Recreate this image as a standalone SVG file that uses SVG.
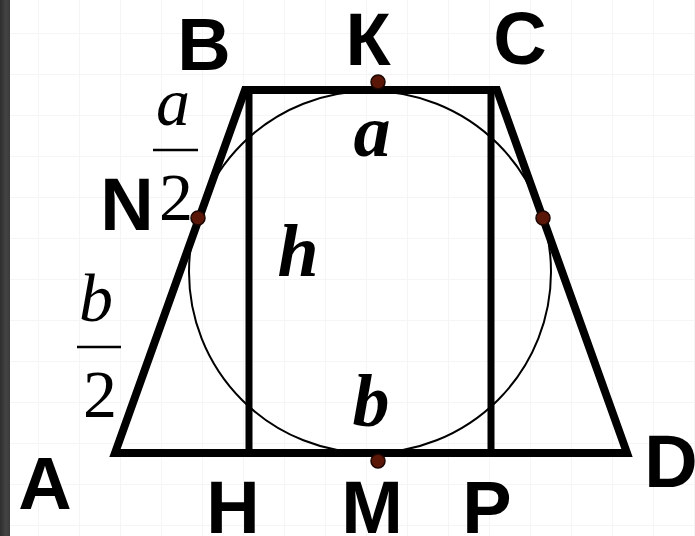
<svg xmlns="http://www.w3.org/2000/svg" width="695" height="536" viewBox="0 0 695 536">
  <defs>
    <pattern id="grid" x="38" y="33" width="41" height="41" patternUnits="userSpaceOnUse">
      <path d="M0 0 V41 M0 0 H41" fill="none" stroke="#f5f5f5" stroke-width="2"/>
    </pattern>
    <linearGradient id="edge" x1="0" y1="0" x2="1" y2="0">
      <stop offset="0" stop-color="#2e2e2e"/>
      <stop offset="0.6" stop-color="#444"/>
      <stop offset="1" stop-color="#3a3a3a"/>
    </linearGradient>
  </defs>
  <style>
    .lbl { font-family: "Liberation Sans", Arial, sans-serif; font-weight: bold; font-size: 74px; text-anchor: middle; fill: #000; }
    .var { font-family: "Liberation Serif", "Times New Roman", serif; font-style: italic; font-weight: bold; font-size: 74px; text-anchor: middle; fill: #000; }
    .fr { font-family: "Liberation Serif", "Times New Roman", serif; font-size: 68px; text-anchor: middle; fill: #000; }
    .fri { font-style: italic; }
    .thick { fill: none; stroke: #000; stroke-width: 8; stroke-linejoin: miter; stroke-miterlimit: 10; }
    .vert { fill: none; stroke: #000; stroke-width: 7; }
    .bar { stroke: #000; stroke-width: 2.5; }
    .pt { fill: #5a1606; stroke: #1a0500; stroke-width: 1.5; }
  </style>
  <rect width="695" height="536" fill="#fff"/>
  <rect width="695" height="536" fill="url(#grid)"/>
  <rect x="0" y="0" width="10" height="536" fill="url(#edge)"/>

  <g id="figure">
    <circle id="incircle" cx="370" cy="272" r="181" fill="none" stroke="#000" stroke-width="2"/>
    <polygon id="trapezoid" class="thick" points="115,453 245,90 497,90 627,453"/>
    <line id="BH" class="vert" x1="249" y1="90" x2="249" y2="453"/>
    <line id="CP" class="vert" x1="491" y1="90" x2="491" y2="453"/>
  </g>

  <g id="points">
    <circle class="pt" cx="378" cy="82" r="7"/>
    <circle class="pt" cx="378" cy="461" r="7"/>
    <circle class="pt" cx="198" cy="218" r="7"/>
    <circle class="pt" cx="543" cy="218" r="7"/>
  </g>

  <g id="vertex-labels">
    <text class="lbl" x="204" y="70">B</text>
    <text class="lbl" x="368" y="65">К</text>
    <text class="lbl" x="520" y="64">C</text>
    <text class="lbl" x="127" y="230">N</text>
    <text class="lbl" x="45" y="509">A</text>
    <text class="lbl" x="233" y="533">H</text>
    <text class="lbl" x="372" y="533">M</text>
    <text class="lbl" x="487" y="533">P</text>
    <text class="lbl" x="671" y="487">D</text>
  </g>

  <g id="segment-labels">
    <text class="var" x="372" y="156">a</text>
    <text class="var" x="298" y="276">h</text>
    <text class="var" x="371" y="426">b</text>
  </g>

  <g id="frac-a2">
    <text class="fr fri" x="173" y="125">a</text>
    <line class="bar" x1="153" y1="150" x2="198" y2="150"/>
    <text class="fr" x="176" y="220">2</text>
  </g>
  <g id="frac-b2">
    <text class="fr fri" x="96" y="321">b</text>
    <line class="bar" x1="77" y1="347" x2="121" y2="347"/>
    <text class="fr" x="100" y="417">2</text>
  </g>
</svg>
